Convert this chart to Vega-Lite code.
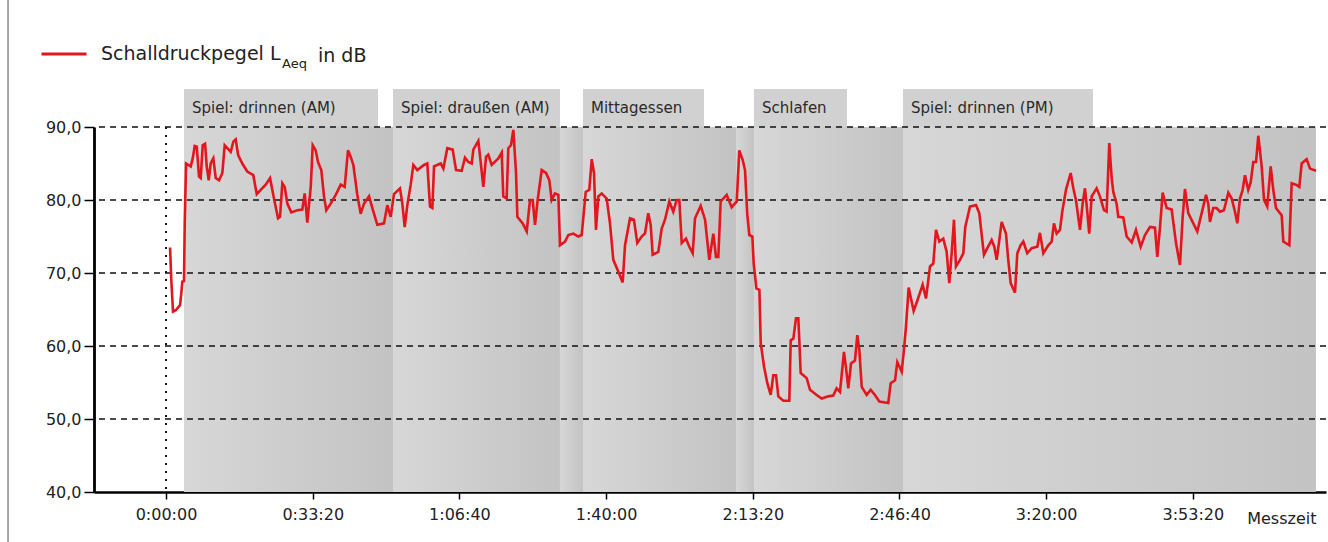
{
  "$schema": "https://vega.github.io/schema/vega-lite/v6.json",
  "width": 1232,
  "height": 365,
  "autosize": "none",
  "padding": {"left": 94, "top": 127, "right": 2, "bottom": 50},
  "background": "white",
  "config": {
    "view": {"stroke": null},
    "font": "DejaVu Sans"
  },
  "datasets": {
    "one": [{}],
    "phases": [
      {"start": 245, "end": 3095},
      {"start": 3095, "end": 5371},
      {"start": 5371, "end": 5685},
      {"start": 5685, "end": 7771},
      {"start": 7771, "end": 8016},
      {"start": 8016, "end": 10048},
      {"start": 10048, "end": 15678}
    ],
    "labels": [
      {"start": 245, "labelEnd": 2890, "label": "Spiel: drinnen (AM)"},
      {"start": 3095, "labelEnd": 5371, "label": "Spiel: draußen (AM)"},
      {"start": 5685, "labelEnd": 7335, "label": "Mittagessen"},
      {"start": 8016, "labelEnd": 9284, "label": "Schlafen"},
      {"start": 10048, "labelEnd": 12638, "label": "Spiel: drinnen (PM)"}
    ],
    "grid": [{"g": 50}, {"g": 60}, {"g": 70}, {"g": 80}, {"g": 90}],
    "laeq": [
      {"t":55,"db":73.5},{"t":72,"db":69.0},{"t":95,"db":64.7},{"t":132,"db":64.9},{"t":191,"db":65.6},{"t":209,"db":67.3},{"t":222,"db":68.8},{"t":245,"db":68.9},{"t":255,"db":76.8},{"t":273,"db":85.0},{"t":337,"db":84.6},{"t":364,"db":85.7},{"t":391,"db":87.4},{"t":419,"db":87.3},{"t":450,"db":83.2},{"t":473,"db":83.0},{"t":500,"db":87.5},{"t":532,"db":87.7},{"t":555,"db":84.6},{"t":582,"db":82.7},{"t":609,"db":85.0},{"t":645,"db":85.7},{"t":678,"db":83.0},{"t":723,"db":82.7},{"t":768,"db":83.7},{"t":800,"db":87.5},{"t":836,"db":87.1},{"t":882,"db":86.6},{"t":918,"db":88.0},{"t":950,"db":88.3},{"t":982,"db":86.2},{"t":1040,"db":85.0},{"t":1108,"db":83.9},{"t":1190,"db":83.4},{"t":1237,"db":80.8},{"t":1291,"db":81.4},{"t":1359,"db":82.1},{"t":1418,"db":83.0},{"t":1472,"db":80.2},{"t":1527,"db":77.5},{"t":1554,"db":77.7},{"t":1586,"db":82.3},{"t":1618,"db":81.8},{"t":1654,"db":79.5},{"t":1708,"db":78.3},{"t":1790,"db":78.6},{"t":1858,"db":78.7},{"t":1891,"db":80.9},{"t":1926,"db":76.9},{"t":1973,"db":81.8},{"t":2000,"db":87.5},{"t":2041,"db":86.8},{"t":2072,"db":85.2},{"t":2117,"db":84.1},{"t":2154,"db":80.5},{"t":2185,"db":78.6},{"t":2245,"db":79.5},{"t":2314,"db":80.7},{"t":2382,"db":82.1},{"t":2436,"db":81.8},{"t":2481,"db":86.8},{"t":2518,"db":85.9},{"t":2554,"db":84.8},{"t":2608,"db":80.7},{"t":2654,"db":78.1},{"t":2699,"db":79.5},{"t":2768,"db":80.5},{"t":2813,"db":78.9},{"t":2881,"db":76.6},{"t":2972,"db":76.8},{"t":3017,"db":79.3},{"t":3063,"db":77.7},{"t":3108,"db":80.8},{"t":3190,"db":81.6},{"t":3222,"db":79.5},{"t":3254,"db":76.3},{"t":3290,"db":79.3},{"t":3336,"db":82.1},{"t":3372,"db":84.8},{"t":3426,"db":84.1},{"t":3517,"db":84.8},{"t":3562,"db":85.0},{"t":3599,"db":79.1},{"t":3631,"db":78.9},{"t":3654,"db":84.6},{"t":3745,"db":85.0},{"t":3781,"db":84.3},{"t":3835,"db":87.1},{"t":3908,"db":86.9},{"t":3954,"db":84.1},{"t":4031,"db":84.0},{"t":4076,"db":85.8},{"t":4122,"db":85.2},{"t":4168,"db":85.0},{"t":4190,"db":86.9},{"t":4258,"db":88.1},{"t":4290,"db":85.2},{"t":4326,"db":81.8},{"t":4363,"db":85.9},{"t":4394,"db":86.2},{"t":4440,"db":84.8},{"t":4531,"db":85.7},{"t":4577,"db":86.5},{"t":4598,"db":80.5},{"t":4644,"db":80.2},{"t":4667,"db":87.1},{"t":4703,"db":87.5},{"t":4735,"db":89.6},{"t":4772,"db":83.7},{"t":4790,"db":77.7},{"t":4863,"db":76.8},{"t":4918,"db":75.7},{"t":4962,"db":80.0},{"t":4999,"db":80.0},{"t":5031,"db":76.6},{"t":5067,"db":80.0},{"t":5122,"db":84.1},{"t":5181,"db":83.7},{"t":5226,"db":82.7},{"t":5258,"db":80.0},{"t":5303,"db":80.9},{"t":5349,"db":80.7},{"t":5371,"db":73.8},{"t":5440,"db":74.3},{"t":5485,"db":75.2},{"t":5553,"db":75.4},{"t":5621,"db":75.0},{"t":5667,"db":75.2},{"t":5722,"db":81.1},{"t":5771,"db":81.4},{"t":5804,"db":85.6},{"t":5835,"db":83.7},{"t":5862,"db":75.9},{"t":5894,"db":80.5},{"t":5940,"db":80.9},{"t":6008,"db":80.2},{"t":6053,"db":76.8},{"t":6098,"db":71.8},{"t":6166,"db":70.2},{"t":6226,"db":68.7},{"t":6258,"db":73.8},{"t":6326,"db":77.5},{"t":6380,"db":77.3},{"t":6425,"db":74.1},{"t":6485,"db":75.0},{"t":6530,"db":75.4},{"t":6575,"db":78.2},{"t":6608,"db":76.6},{"t":6635,"db":72.5},{"t":6712,"db":72.9},{"t":6758,"db":76.1},{"t":6803,"db":77.3},{"t":6862,"db":79.8},{"t":6916,"db":78.4},{"t":6962,"db":80.0},{"t":6998,"db":80.0},{"t":7031,"db":74.1},{"t":7089,"db":74.7},{"t":7135,"db":73.6},{"t":7181,"db":72.7},{"t":7212,"db":77.5},{"t":7290,"db":79.2},{"t":7349,"db":77.3},{"t":7407,"db":71.8},{"t":7462,"db":75.4},{"t":7498,"db":72.2},{"t":7530,"db":72.2},{"t":7562,"db":79.8},{"t":7644,"db":80.7},{"t":7712,"db":79.0},{"t":7781,"db":79.8},{"t":7816,"db":86.8},{"t":7862,"db":85.5},{"t":7894,"db":84.1},{"t":7925,"db":78.0},{"t":7953,"db":75.2},{"t":7994,"db":75.0},{"t":8012,"db":71.3},{"t":8049,"db":67.9},{"t":8090,"db":67.7},{"t":8108,"db":60.4},{"t":8153,"db":57.2},{"t":8198,"db":54.9},{"t":8244,"db":53.3},{"t":8280,"db":56.0},{"t":8317,"db":56.0},{"t":8348,"db":53.1},{"t":8416,"db":52.5},{"t":8498,"db":52.5},{"t":8517,"db":60.8},{"t":8553,"db":61.0},{"t":8589,"db":63.8},{"t":8621,"db":63.8},{"t":8653,"db":56.3},{"t":8735,"db":55.6},{"t":8780,"db":54.0},{"t":8871,"db":53.3},{"t":8939,"db":52.8},{"t":9029,"db":53.1},{"t":9097,"db":53.2},{"t":9143,"db":54.2},{"t":9189,"db":53.7},{"t":9243,"db":59.2},{"t":9271,"db":57.0},{"t":9302,"db":54.2},{"t":9339,"db":57.6},{"t":9393,"db":58.0},{"t":9425,"db":61.5},{"t":9452,"db":59.5},{"t":9485,"db":54.4},{"t":9553,"db":53.3},{"t":9607,"db":54.0},{"t":9666,"db":53.3},{"t":9725,"db":52.4},{"t":9847,"db":52.2},{"t":9880,"db":54.9},{"t":9939,"db":55.3},{"t":9970,"db":57.8},{"t":10030,"db":56.5},{"t":10061,"db":59.5},{"t":10088,"db":62.6},{"t":10125,"db":68.0},{"t":10193,"db":64.8},{"t":10239,"db":66.1},{"t":10316,"db":68.4},{"t":10361,"db":66.5},{"t":10416,"db":70.9},{"t":10461,"db":71.3},{"t":10498,"db":75.9},{"t":10543,"db":74.3},{"t":10597,"db":74.7},{"t":10643,"db":72.9},{"t":10679,"db":68.6},{"t":10711,"db":72.7},{"t":10743,"db":77.3},{"t":10770,"db":70.9},{"t":10825,"db":71.8},{"t":10870,"db":72.7},{"t":10897,"db":76.3},{"t":10961,"db":79.1},{"t":11043,"db":79.3},{"t":11088,"db":78.2},{"t":11121,"db":75.2},{"t":11152,"db":72.5},{"t":11197,"db":73.4},{"t":11257,"db":74.5},{"t":11293,"db":73.6},{"t":11325,"db":71.8},{"t":11361,"db":74.5},{"t":11393,"db":77.0},{"t":11452,"db":75.4},{"t":11483,"db":71.8},{"t":11516,"db":68.6},{"t":11575,"db":67.3},{"t":11606,"db":72.7},{"t":11652,"db":73.8},{"t":11688,"db":74.3},{"t":11742,"db":72.7},{"t":11802,"db":73.4},{"t":11879,"db":73.6},{"t":11915,"db":75.5},{"t":11961,"db":72.7},{"t":12029,"db":73.8},{"t":12075,"db":74.3},{"t":12106,"db":76.8},{"t":12143,"db":75.4},{"t":12188,"db":75.9},{"t":12219,"db":78.4},{"t":12270,"db":81.4},{"t":12334,"db":83.7},{"t":12370,"db":81.6},{"t":12406,"db":80.0},{"t":12461,"db":75.9},{"t":12497,"db":79.5},{"t":12529,"db":81.6},{"t":12560,"db":78.4},{"t":12587,"db":75.4},{"t":12620,"db":80.5},{"t":12688,"db":81.6},{"t":12733,"db":80.5},{"t":12788,"db":78.6},{"t":12824,"db":78.4},{"t":12860,"db":87.8},{"t":12893,"db":83.0},{"t":12915,"db":81.1},{"t":12960,"db":79.5},{"t":12983,"db":77.7},{"t":13051,"db":77.6},{"t":13097,"db":75.0},{"t":13166,"db":74.2},{"t":13224,"db":75.9},{"t":13288,"db":73.6},{"t":13347,"db":75.2},{"t":13415,"db":76.3},{"t":13483,"db":76.2},{"t":13515,"db":72.2},{"t":13552,"db":76.3},{"t":13588,"db":81.0},{"t":13643,"db":78.9},{"t":13711,"db":78.7},{"t":13770,"db":74.1},{"t":13824,"db":71.1},{"t":13861,"db":77.7},{"t":13892,"db":81.5},{"t":13937,"db":78.2},{"t":14006,"db":76.8},{"t":14060,"db":75.7},{"t":14120,"db":78.2},{"t":14179,"db":80.7},{"t":14210,"db":79.5},{"t":14233,"db":77.0},{"t":14278,"db":78.9},{"t":14324,"db":78.9},{"t":14369,"db":78.4},{"t":14424,"db":78.6},{"t":14483,"db":81.0},{"t":14529,"db":80.2},{"t":14574,"db":78.4},{"t":14606,"db":76.8},{"t":14642,"db":80.2},{"t":14679,"db":81.4},{"t":14710,"db":83.4},{"t":14755,"db":81.4},{"t":14788,"db":82.4},{"t":14824,"db":85.2},{"t":14861,"db":85.2},{"t":14892,"db":88.8},{"t":14938,"db":84.6},{"t":14970,"db":80.0},{"t":15014,"db":79.1},{"t":15061,"db":84.6},{"t":15096,"db":81.4},{"t":15133,"db":78.9},{"t":15211,"db":77.9},{"t":15233,"db":74.3},{"t":15315,"db":73.8},{"t":15347,"db":82.3},{"t":15406,"db":82.1},{"t":15451,"db":81.8},{"t":15483,"db":85.0},{"t":15551,"db":85.6},{"t":15597,"db":84.3},{"t":15678,"db":84.0}
    ]
  },
  "layer": [
    {
      "data": {"name": "phases"},
      "mark": {
        "type": "rect",
        "fill": {"gradient": "linear", "x1": 0, "y1": 0, "x2": 1, "y2": 0,
                 "stops": [{"offset": 0, "color": "#d7d7d7"}, {"offset": 1, "color": "#c3c3c3"}]}
      },
      "encoding": {
        "x": {"field": "start", "type": "quantitative", "scale": {"domain": [-982, 15815], "nice": false, "zero": false}},
        "x2": {"field": "end"}
      }
    },
    {
      "data": {"name": "labels"},
      "mark": {"type": "rect", "fill": "#d1d1d1"},
      "encoding": {
        "x": {"field": "start", "type": "quantitative", "scale": {"domain": [-982, 15815], "nice": false, "zero": false}},
        "x2": {"field": "labelEnd"},
        "y": {"datum": 90, "type": "quantitative", "scale": {"domain": [40, 90], "nice": false, "zero": false}},
        "y2": {"datum": 95.2}
      }
    },
    {
      "data": {"name": "labels"},
      "mark": {"type": "text", "align": "left", "baseline": "alphabetic", "dx": 8, "fontSize": 15, "color": "#2a2a2a", "font": "DejaVu Sans"},
      "encoding": {
        "x": {"field": "start", "type": "quantitative", "scale": {"domain": [-982, 15815], "nice": false, "zero": false}},
        "y": {"datum": 91.9, "type": "quantitative", "scale": {"domain": [40, 90], "nice": false, "zero": false}},
        "text": {"field": "label"}
      }
    },
    {
      "data": {"name": "grid"},
      "mark": {"type": "rule", "color": "#111", "strokeWidth": 1.3, "strokeDash": [6, 5]},
      "encoding": {
        "y": {"field": "g", "type": "quantitative", "scale": {"domain": [40, 90], "nice": false, "zero": false}}
      }
    },
    {
      "data": {"name": "one"},
      "mark": {"type": "rule", "color": "#111", "strokeWidth": 2, "strokeDash": [2, 6]},
      "encoding": {
        "x": {"datum": 0, "type": "quantitative", "scale": {"domain": [-982, 15815], "nice": false, "zero": false}}
      }
    },
    {
      "data": {"name": "laeq"},
      "mark": {"type": "line", "strokeWidth": 2.6, "interpolate": "linear"},
      "encoding": {
        "x": {
          "field": "t", "type": "quantitative",
          "scale": {"domain": [-982, 15815], "nice": false, "zero": false},
          "axis": {
            "values": [0, 2000, 4000, 6000, 8000, 10000, 12000, 14000],
            "labelExpr": "utcFormat(datum.value * 1000, '%-H:%M:%S')",
            "grid": false, "domainColor": "#000", "domainWidth": 2.5,
            "tickColor": "#000", "tickWidth": 1.5, "tickSize": 7,
            "labelFont": "DejaVu Sans", "labelFontSize": 16, "labelColor": "#222", "labelPadding": 7,
            "title": "Messzeit", "titleFont": "DejaVu Sans", "titleFontSize": 16, "titleFontWeight": "normal",
            "titleColor": "#222", "titleAnchor": "end", "titleAlign": "right", "titleBaseline": "alphabetic",
            "titleX": 1222, "titleY": 31
          }
        },
        "y": {
          "field": "db", "type": "quantitative",
          "scale": {"domain": [40, 90], "nice": false, "zero": false},
          "axis": {
            "values": [40, 50, 60, 70, 80, 90],
            "labelExpr": "replace(format(datum.value, '.1f'), '.', ',')",
            "grid": false, "domainColor": "#000", "domainWidth": 2.8,
            "tickColor": "#000", "tickWidth": 1.5, "tickSize": 10,
            "labelFont": "DejaVu Sans", "labelFontSize": 16, "labelColor": "#222", "labelPadding": 3,
            "title": null
          }
        },
        "color": {
          "datum": "Schalldruckpegel L",
          "scale": {"range": ["#e3161d"]},
          "legend": {
            "orient": "none", "legendX": -54, "legendY": -97, "title": null,
            "symbolType": "stroke", "symbolSize": 2025, "symbolStrokeWidth": 3,
            "labelFont": "DejaVu Sans", "labelFontSize": 19, "labelColor": "#222",
            "labelOffset": 13, "labelLimit": 0, "padding": 0
          }
        }
      }
    },
    {
      "data": {"name": "one"},
      "mark": {"type": "text", "text": "Aeq", "align": "left", "baseline": "alphabetic", "fontSize": 13, "color": "#222", "font": "DejaVu Sans"},
      "encoding": {
        "x": {"datum": 1581, "type": "quantitative", "scale": {"domain": [-982, 15815], "nice": false, "zero": false}},
        "y": {"datum": 98.1, "type": "quantitative", "scale": {"domain": [40, 90], "nice": false, "zero": false}}
      }
    },
    {
      "data": {"name": "one"},
      "mark": {"type": "text", "text": "in dB", "align": "left", "baseline": "alphabetic", "fontSize": 19, "color": "#222", "font": "DejaVu Sans"},
      "encoding": {
        "x": {"datum": 2072, "type": "quantitative", "scale": {"domain": [-982, 15815], "nice": false, "zero": false}},
        "y": {"datum": 98.9, "type": "quantitative", "scale": {"domain": [40, 90], "nice": false, "zero": false}}
      }
    },
    {
      "data": {"name": "one"},
      "mark": {"type": "rule", "color": "#8a8a8a", "strokeWidth": 1.5},
      "encoding": {
        "x": {"datum": -2154, "type": "quantitative", "scale": {"domain": [-982, 15815], "nice": false, "zero": false}},
        "y": {"datum": 107.5, "type": "quantitative", "scale": {"domain": [40, 90], "nice": false, "zero": false}},
        "y2": {"datum": 33.0}
      }
    }
  ]
}
